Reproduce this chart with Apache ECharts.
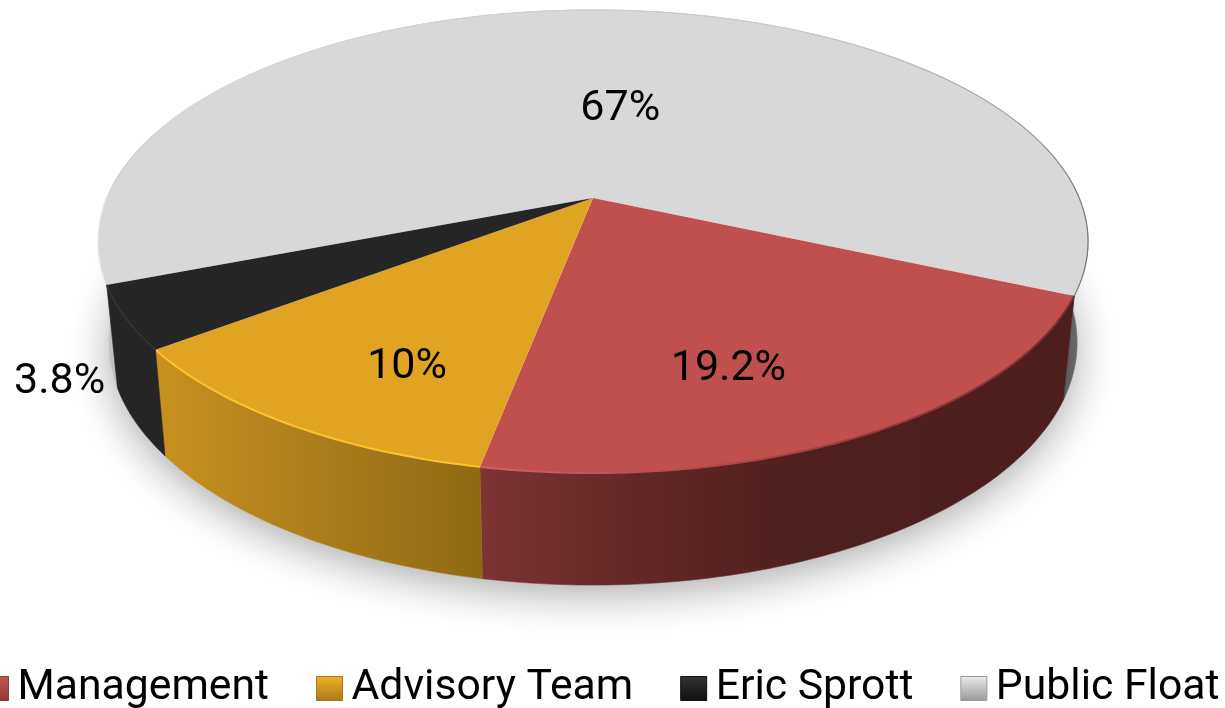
<!DOCTYPE html>
<html><head><meta charset="utf-8">
<style>html,body{margin:0;padding:0;background:#fff}#c{width:1225px;height:708px}</style>
<script src="https://cdn.jsdelivr.net/npm/echarts@6/dist/echarts.min.js"></script>
</head><body><div id="c"></div>
<script>
const categories = ['Management', 'Advisory Team', 'Eric Sprott', 'Public Float'];
// Slice sizes as drawn in the picture (angular share, %); they differ a little from the printed labels.
const sliceShares = [21.4, 11.67, 4.39, 62.55];
const printedLabels = ['19.2%', '10%', '3.8%', '67%'];

const G = echarts.graphic.LinearGradient;
const hGrad = stops => new G(0, 0, 1, 0, stops.map(s => ({offset: s[0], color: s[1]})));
const TOP = ['#bf504e', '#e0a322', '#252525', '#d8d8d8'];
const RIM = [
  hGrad([[0, '#d06462'], [0.5, '#a8403e'], [1, '#7a2f2d']]),
  '#ffc22e', '#343434',
  hGrad([[0, '#efefef'], [0.02, '#cfcfcf'], [0.08, '#d8d8d8'], [0.75, '#c8c8c8'], [0.93, '#a8a8a8'], [1, '#777777']])
];
const RIM_WIDTH = [2, 2, 2, 1.2];
const WALL = [
  hGrad([[0, '#7c3333'], [0.25, '#652828'], [0.55, '#4e1f1f'], [1, '#4c1e1e']]),
  hGrad([[0, '#c8911f'], [0.5, '#ab7d1b'], [1, '#8f6a14']]),
  '#252525',
  hGrad([[0, '#e4e4e4'], [0.012, '#c2c2c2'], [0.5, '#9a9a9a'], [0.98, '#5e5e5e'], [1, '#777']])
];
const LEGEND = [
  ['#c25654', '#8e3a38'], ['#f0b22a', '#a87818'], ['#333', '#111'], ['#ececec', '#999']
];
const LABEL_RADIUS = [0.70, 0.62, 1.2, 0.62];
const LABEL_NUDGE = [[-43, 14], [-9, 39], [39, 38], [21, 35]];

const CX = 593, START = 23.9 * Math.PI / 180;
const PLANES = [
  {a: 486.2, b: 223.3, k: -0.188, y: 198},
  {a: 475.5, b: 233.9, k: -0.188, y: 297}
];
function P(th, r, lvl) {
  const p = PLANES[lvl], u = r * Math.sin(th), w = 1 + p.k * u;
  return [CX + p.a * r * Math.cos(th) / w, p.y + p.b * u / w];
}
function arc(t0, t1, lvl) {
  const n = Math.max(4, Math.ceil(Math.abs(t1 - t0) * 60)), out = [];
  for (let i = 0; i <= n; i++) out.push(P(t0 + (t1 - t0) * i / n, 1, lvl));
  return out;
}
const total = sliceShares.reduce((a, b) => a + b, 0);
const startOf = i => START + sliceShares.slice(0, i).reduce((a, b) => a + b, 0) / total * 2 * Math.PI;

function sliceRender(i) {
  return function (params, api) {
    const t0 = startOf(i), t1 = t0 + api.value(0) / total * 2 * Math.PI;
    const top = arc(t0, t1, 0);
    const mid = (t0 + t1) / 2, lp = P(mid, LABEL_RADIUS[i], 0);
    return {type: 'group', children: [
      {type: 'polygon', shape: {points: top.concat(arc(t1, t0, 1))}, style: {fill: WALL[i], stroke: WALL[i], lineWidth: 0.6}},
      {type: 'polygon', shape: {points: [P(0, 0, 0)].concat(top)}, style: {fill: TOP[i]}},
      {type: 'polyline', shape: {points: top}, style: {fill: 'none', stroke: RIM[i], lineWidth: RIM_WIDTH[i]}},
      {type: 'text', z2: 10, style: {
        x: lp[0] + LABEL_NUDGE[i][0], y: lp[1] + LABEL_NUDGE[i][1], text: printedLabels[i],
        fill: '#000', font: '43px Roboto', align: 'center', verticalAlign: 'middle'}}
    ]};
  };
}
function shadowRender(params, api) {
  return {type: 'polygon', shape: {points: arc(0, 2 * Math.PI, 1)}, style: {
    fill: '#fff', shadowBlur: 42, shadowColor: 'rgba(0,0,0,0.33)', shadowOffsetY: 10}};
}

const series = categories.map((name, i) => ({
  type: 'custom', name, coordinateSystem: 'none', silent: true, animation: false,
  z: i === 3 ? 3 : 4, itemStyle: {color: TOP[i]},
  renderItem: sliceRender(i), data: [[sliceShares[i]]]
}));
series.push({type: 'custom', name: 'shadow', coordinateSystem: 'none', silent: true, animation: false,
  z: 1, renderItem: shadowRender, data: [[total]]});

const chart = echarts.init(document.getElementById('c'), null, {renderer: 'canvas'});
chart.setOption({
  animation: false,
  backgroundColor: '#fff',
  legend: {
    left: -18, top: 667, orient: 'horizontal', selectedMode: false,
    itemWidth: 26, itemHeight: 24, itemGap: 47, icon: 'rect', padding: 0,
    textStyle: {color: '#000', fontFamily: 'Roboto', fontSize: 42.7, padding: [0, 0, 0, 4]},
    data: categories.map((name, i) => ({name, itemStyle: {
      color: new G(0, 0, 0, 1, [{offset: 0, color: LEGEND[i][0]}, {offset: 1, color: LEGEND[i][1]}]),
      borderColor: LEGEND[i][1], borderWidth: 1}}))
  },
  series
});
</script></body></html>
